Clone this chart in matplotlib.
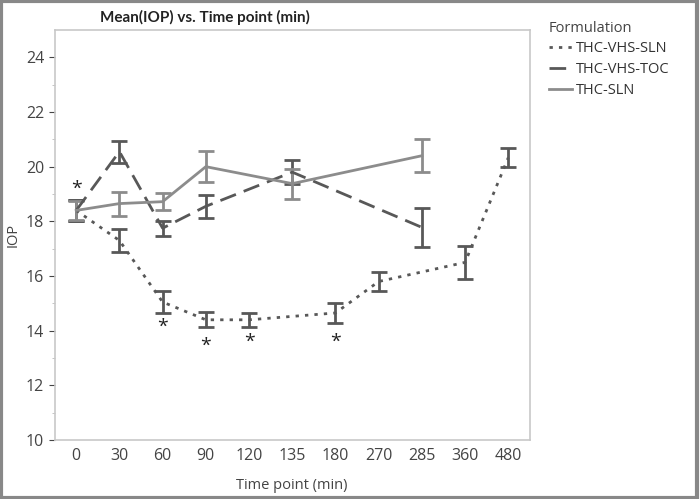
# Mean IOP vs time point for three formulations, with error bars
import matplotlib.pyplot as plt
from matplotlib.patches import Rectangle

plt.rcParams['font.family'] = ['Open Sans', 'DejaVu Sans']

# time points (categorical x axis)
time_labels = ['0', '30', '60', '90', '120', '135', '180', '270', '285', '360', '480']

# THC-VHS-SLN (dotted)
sln_vhs_t = ['0', '30', '60', '90', '120', '180', '270', '360', '480']
sln_vhs_mean = [18.4, 17.3, 15.05, 14.4, 14.4, 14.65, 15.8, 16.5, 20.33]
sln_vhs_err = [0.38, 0.43, 0.4, 0.27, 0.26, 0.35, 0.35, 0.6, 0.35]

# THC-VHS-TOC (dashed)
toc_t = ['0', '30', '60', '90', '135', '285']
toc_mean = [18.4, 20.55, 17.75, 18.55, 19.8, 17.78]
toc_err = [0.38, 0.4, 0.28, 0.42, 0.45, 0.7]

# THC-SLN (solid)
sln_t = ['0', '30', '60', '90', '135', '285']
sln_mean = [18.4, 18.65, 18.72, 20.0, 19.38, 20.4]
sln_err = [0.35, 0.44, 0.3, 0.57, 0.55, 0.6]

# significance asterisks
star_t = ['0', '60', '90', '120', '180']
star_y = [19.2, 14.15, 13.45, 13.6, 13.6]

pos = {t: i for i, t in enumerate(time_labels)}

fig = plt.figure(figsize=(7, 4.99), dpi=100)
ax = fig.add_axes([0.078, 0.118, 0.679, 0.822])

dark = '#585858'
light = '#8c8c8c'

x1 = [pos[t] for t in sln_vhs_t]
ax.errorbar(x1, sln_vhs_mean, yerr=sln_vhs_err, color=dark, linestyle=(0, (1.2, 2.2)),
            linewidth=2, capsize=6, capthick=2, elinewidth=2, label='THC-VHS-SLN')

x2 = [pos[t] for t in toc_t]
ax.errorbar(x2, toc_mean, yerr=toc_err, color=dark, linestyle=(0, (6, 3)),
            linewidth=2, capsize=6, capthick=2, elinewidth=2, label='THC-VHS-TOC')

x3 = [pos[t] for t in sln_t]
ax.errorbar(x3, sln_mean, yerr=sln_err, color=light, linestyle='-',
            linewidth=2, capsize=6, capthick=2, elinewidth=2, label='THC-SLN')

for t, y in zip(star_t, star_y):
    ax.text(pos[t], y, '*', ha='center', va='center', fontsize=14, color='#222222')

ax.set_xlim(-0.5, len(time_labels) - 0.5)
ax.set_ylim(10, 25)
ax.set_xticks(range(len(time_labels)))
ax.set_xticklabels(time_labels)
ax.set_yticks(range(10, 25, 2))
ax.set_yticks(range(11, 25, 2), minor=True)
ax.tick_params(axis='x', length=0, labelsize=11.5, colors='#444444', pad=6)
ax.tick_params(axis='y', which='major', length=4, labelsize=11.5, colors='#444444', width=0.8)
ax.tick_params(axis='y', which='minor', length=2, colors='#bbbbbb')
for s in ax.spines.values():
    s.set_color('#c8c8c8')
    s.set_linewidth(1.2)

ax.set_xlabel('Time point (min)', fontsize=10.5, color='#444444', labelpad=10)
ax.set_ylabel('IOP', fontsize=10.5, color='#444444')
fig.text(205 / 700, 1 - 17 / 499, 'Mean(IOP) vs. Time point (min)', ha='center', va='center',
         fontsize=11, fontweight='bold', color='#222222', family=['Lato', 'DejaVu Sans'])

h, l = ax.get_legend_handles_labels()
h = [hh[0] for hh in h]
leg = fig.legend(h, l, title='Formulation', loc='upper left', bbox_to_anchor=(0.765, 0.985),
                 frameon=False, fontsize=10.5, handlelength=1.6, handletextpad=0.3,
                 labelspacing=0.4, title_fontsize=10.5, alignment='left')
for txt in leg.get_texts():
    txt.set_color('#333333')
leg.get_title().set_color('#444444')

# outer border of the picture
fig.patches.append(Rectangle((0.001, 0.003), 0.995, 0.995, transform=fig.transFigure,
                             fill=False, edgecolor='#888888', linewidth=3))

fig.savefig('out.png', dpi=100)
